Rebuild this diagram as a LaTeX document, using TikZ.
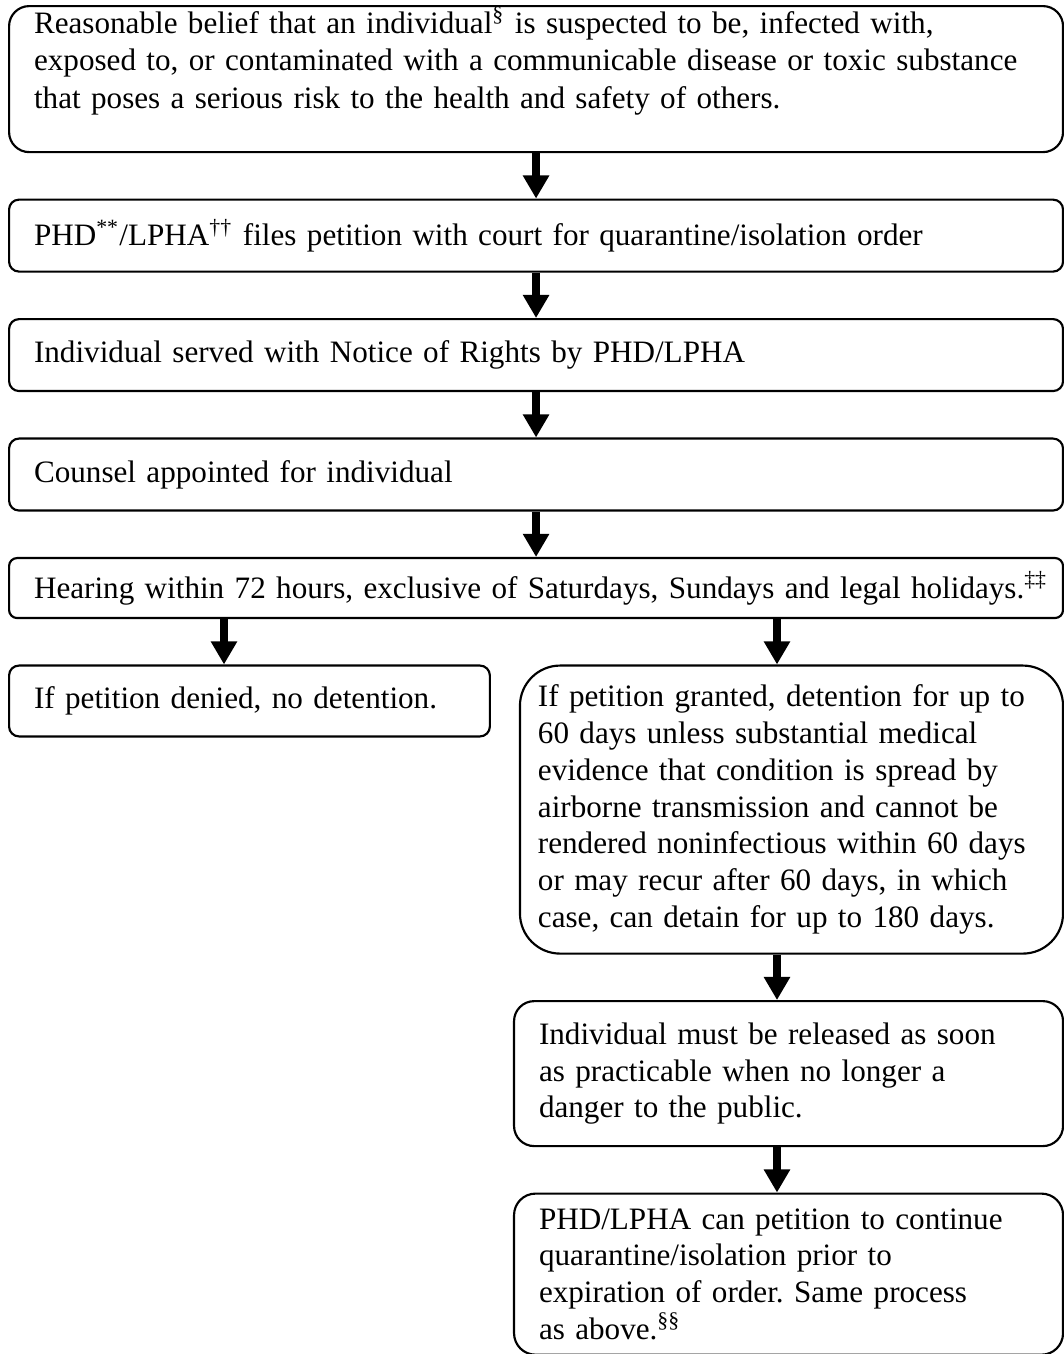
\documentclass[tikz,border=0pt]{standalone}
\usepackage{fontspec}
\setmainfont{Liberation Serif}
\usetikzlibrary{positioning,arrows.meta}
\def\pix{0.3725pt}
\frenchspacing

\begin{document}
\begin{tikzpicture}[x=\pix, y=-\pix, node distance={16.9pt},
    box/.style = {draw, line width=0.8pt, rounded corners=#1, align=left, inner ysep=0pt,
      font=\fontsize{11.6pt}{13.7pt}\selectfont},
    box/.default = 3.7pt,
    wide/.style = {text width=374pt, inner xsep=9.3pt},
    narrow/.style = {text width=185.9pt, inner xsep=9.3pt},
    flow/.style = {-{Triangle[width=9.3pt,length=8.6pt]}, line width=3.2pt}]
    \useasboundingbox (0,0) rectangle (1063,1354);

    % main column
    \node[box=7.5pt, wide, minimum height=54.4pt, anchor=north west] (belief) at (8,5)
        {Reasonable belief that an individual\textsuperscript{\S} is suspected to be, infected with,\\[0.4pt]
         exposed to, or contaminated with a communicable disease or toxic substance\\[0.4pt]
         that poses a serious risk to the health and safety of others.\rule[-16pt]{0pt}{0pt}};
    \node[box, wide, minimum height=26.8pt, below=of belief.south west, anchor=north west] (petition)
        {PHD\textsuperscript{**}/LPHA\textsuperscript{\dag\dag} files petition with court for quarantine/isolation order};
    \node[box, wide, minimum height=26.8pt, below=of petition.south west, anchor=north west] (notice)
        {Individual served with Notice of Rights by PHD/LPHA};
    \node[box, wide, minimum height=26.8pt, below=of notice.south west, anchor=north west] (counsel)
        {Counsel appointed for individual};
    \node[box=3pt, wide, minimum height=22.35pt, below=of counsel.south west, anchor=north west] (hearing)
        {\mbox{Hearing within 72 hours, exclusive of Saturdays, Sundays and legal holidays.\textsuperscript{\ddag\ddag}}};

    % two outcomes
    \node[box, text width=160.5pt, inner xsep=9.3pt, minimum height=26.4pt,
        below=of hearing.south west, anchor=north west] (denied)
        {If petition denied, no detention.};
    \node[box=15pt, text width=188.9pt, inner xsep=6.7pt, minimum height=107.3pt,
        below=of hearing.south east, anchor=north east] (granted)
        {If petition granted, detention for up to\\
         60 days unless substantial medical\\
         evidence that condition is spread by\\
         airborne transmission and cannot be\\
         rendered noninfectious within 60 days\\
         or may recur after 60 days, in which\\
         case, can detain for up to 180 days.};
    \node[box=7.5pt, narrow, minimum height=54pt, below=of granted.south east, anchor=north east] (release)
        {Individual must be released as soon\\
         as practicable when no longer a\\
         danger to the public.};
    \node[box=8pt, narrow, minimum height=60pt, below=of release.south east, anchor=north east] (renewal)
        {PHD/LPHA can petition to continue\\
         quarantine/isolation prior to\\
         expiration of order. Same process\\
         as above.\textsuperscript{\S\S}};

    \coordinate (leftx) at (224,0);
    \coordinate (rightx) at (777,0);

    \path[flow] (belief) edge (petition);
    \path[flow] (petition) edge (notice);
    \path[flow] (notice) edge (counsel);
    \path[flow] (counsel) edge (hearing);

    \path[flow] (hearing.south -| leftx) edge (denied.north -| leftx);
    \path[flow] (hearing.south -| rightx) edge (granted.north -| rightx);
    \path[flow] (granted.south -| rightx) edge (release.north -| rightx);
    \path[flow] (release.south -| rightx) edge (renewal.north -| rightx);
\end{tikzpicture}
\end{document}
